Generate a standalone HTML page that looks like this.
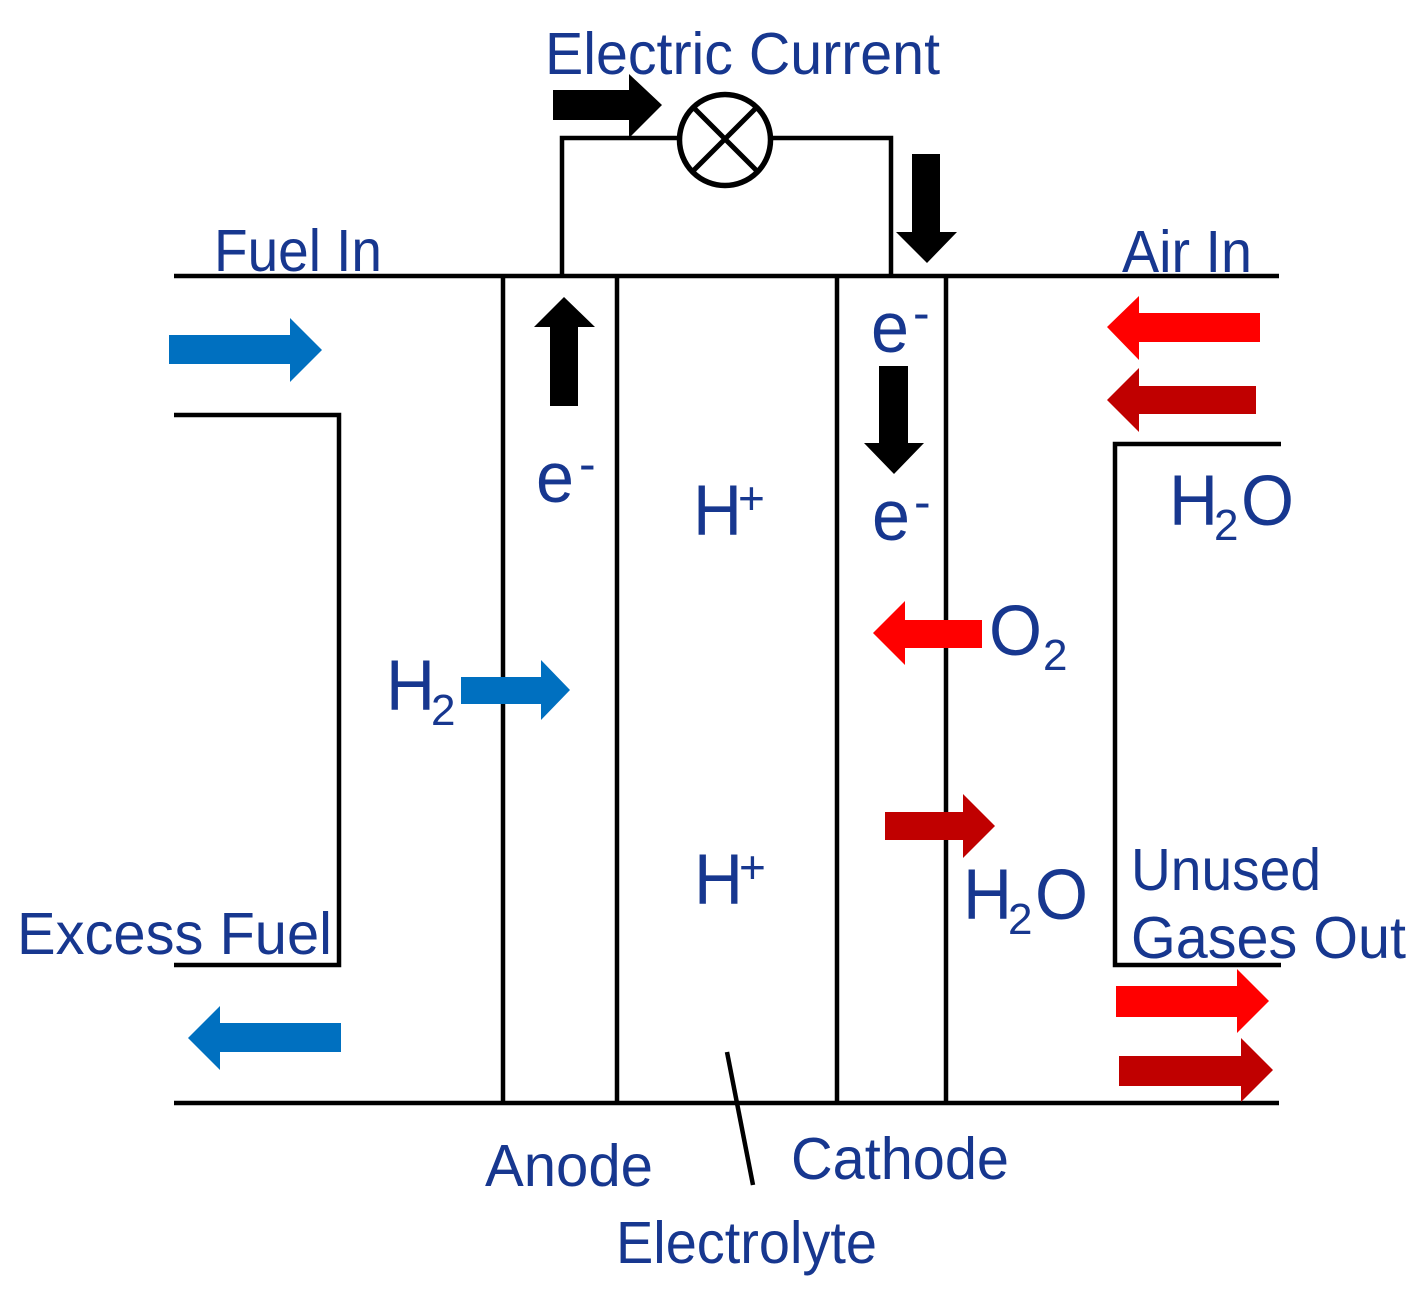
<!DOCTYPE html>
<html><head><meta charset="utf-8"><style>
html,body{margin:0;padding:0;background:#fff}
svg{display:block}
text{font-family:"Liberation Sans",Arial,sans-serif;fill:#17378f}
.m{font-size:59.500px}.b{font-size:71px}.s{font-size:44px}.d{font-size:50px}.p{font-size:46px}
</style></head><body>
<svg width="1423" height="1293" viewBox="0 0 1423 1293" xmlns="http://www.w3.org/2000/svg">
<rect width="1423" height="1293" fill="#fff"/>
<g stroke="#000" stroke-width="4.500" fill="none">
<path d="M174 276H1279M174 1103H1279"/>
<path d="M503 276V1103M617 276V1103M837 276V1103M946 276V1103"/>
<path d="M174 415H339V965H174"/>
<path d="M1281 444H1115V965H1281"/>
<path d="M562 276V138H678M772 138H891V276"/>
<path d="M727 1052L753 1185"/>
<circle cx="725" cy="140" r="45.500" fill="#fff" stroke-width="5.500"/>
<path d="M693 107L757 171M757 107L693 171" stroke-width="5"/>
</g>
<polygon fill="#000" points="553,90 629,90 629,74 662,105 629,138 629,120 553,120"/>
<polygon fill="#000" points="912,154 940,154 940,232 957,232 927,263 896,232 912,232"/>
<polygon fill="#000" points="550,406 578,406 578,327 595,327 564,297 534,327 550,327"/>
<polygon fill="#000" points="879,366 908,366 908,443 924,443 894,474 864,443 879,443"/>
<polygon fill="#0070c0" points="169,335 290,335 290,318 322,350 290,382 290,364 169,364"/>
<polygon fill="#0070c0" points="461,677 541,677 541,660 570,690 541,720 541,704 461,704"/>
<polygon fill="#0070c0" points="341,1023 220,1023 220,1006 188,1038 220,1070 220,1052 341,1052"/>
<polygon fill="#f00" points="1260,313 1139,313 1139,296 1107,327 1139,360 1139,342 1260,342"/>
<polygon fill="#c00000" points="1256,386 1139,386 1139,368 1107,400 1139,432 1139,414 1256,414"/>
<polygon fill="#f00" points="982,620 905,620 905,601 873,633 905,665 905,648 982,648"/>
<polygon fill="#c00000" points="885,812 963,812 963,794 995,826 963,858 963,840 885,840"/>
<polygon fill="#f00" points="1116,986 1237,986 1237,969 1269,1001 1237,1033 1237,1017 1116,1017"/>
<polygon fill="#c00000" points="1119,1056 1241,1056 1241,1038 1273,1070 1241,1102 1241,1086 1119,1086"/>
<text class="m" x="545" y="74" textLength="395" lengthAdjust="spacingAndGlyphs">Electric Current</text>
<text class="m" x="214" y="271" textLength="168" lengthAdjust="spacingAndGlyphs">Fuel In</text>
<text class="m" x="1122" y="272" textLength="130" lengthAdjust="spacingAndGlyphs">Air In</text>
<text class="m" x="17" y="954" textLength="315" lengthAdjust="spacingAndGlyphs">Excess Fuel</text>
<text class="m" x="1131" y="890" textLength="190" lengthAdjust="spacingAndGlyphs">Unused</text>
<text class="m" x="1131" y="958" textLength="275" lengthAdjust="spacingAndGlyphs">Gases Out</text>
<text class="m" x="485" y="1186" textLength="168" lengthAdjust="spacingAndGlyphs">Anode</text>
<text class="m" x="791" y="1179" textLength="218" lengthAdjust="spacingAndGlyphs">Cathode</text>
<text class="m" x="616" y="1263" textLength="261" lengthAdjust="spacingAndGlyphs">Electrolyte</text>
<text class="b" x="536" y="502" textLength="38" lengthAdjust="spacingAndGlyphs">e</text><text class="d" x="579" y="481">-</text>
<text class="b" x="871" y="352" textLength="38" lengthAdjust="spacingAndGlyphs">e</text><text class="d" x="913" y="330">-</text>
<text class="b" x="872" y="540" textLength="38" lengthAdjust="spacingAndGlyphs">e</text><text class="d" x="914" y="519">-</text>
<text class="b" x="693" y="535" textLength="49" lengthAdjust="spacingAndGlyphs">H</text><text class="p" x="738" y="514">+</text>
<text class="b" x="694" y="904" textLength="49" lengthAdjust="spacingAndGlyphs">H</text><text class="p" x="739" y="883">+</text>
<text class="b" x="386" y="710" textLength="49" lengthAdjust="spacingAndGlyphs">H</text><text class="s" x="431" y="725">2</text>
<text class="b" x="1169" y="525" textLength="49" lengthAdjust="spacingAndGlyphs">H</text><text class="s" x="1214" y="540">2</text><text class="b" x="1241" y="525" textLength="53" lengthAdjust="spacingAndGlyphs">O</text>
<text class="b" x="963" y="919" textLength="49" lengthAdjust="spacingAndGlyphs">H</text><text class="s" x="1008" y="934">2</text><text class="b" x="1035" y="919" textLength="53" lengthAdjust="spacingAndGlyphs">O</text>
<text class="b" x="989" y="655" textLength="53" lengthAdjust="spacingAndGlyphs">O</text><text class="s" x="1043" y="670">2</text>
</svg>
</body></html>
